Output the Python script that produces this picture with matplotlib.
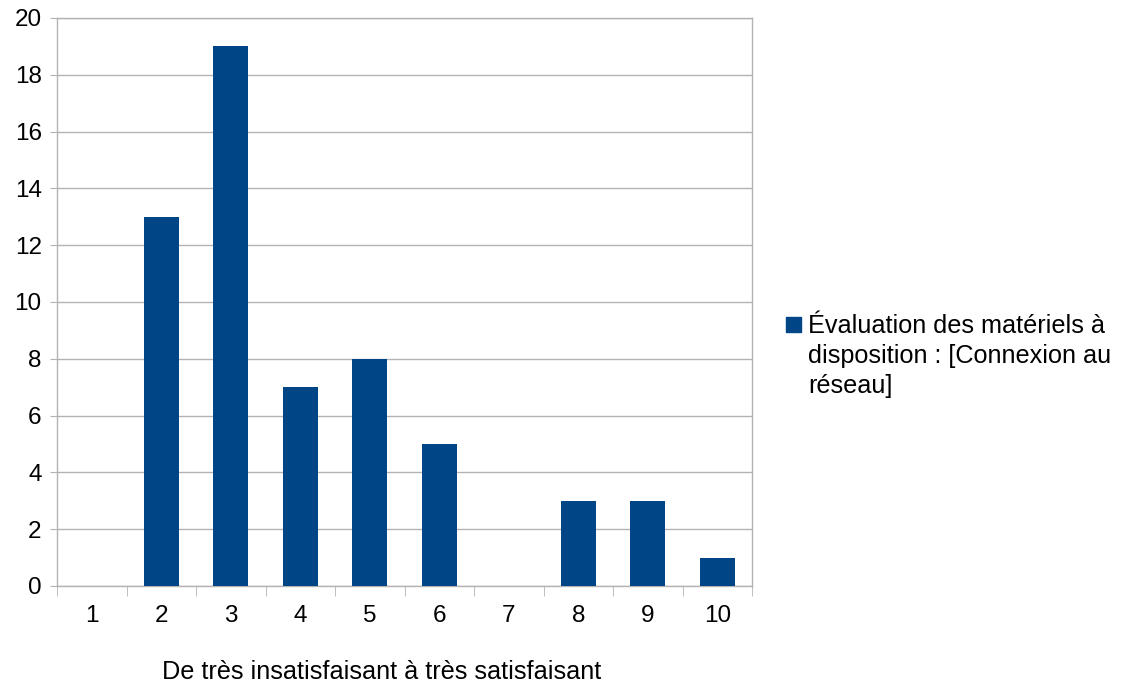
import matplotlib
matplotlib.use("Agg")
import matplotlib.pyplot as plt
from matplotlib.patches import Rectangle

categories = ["1", "2", "3", "4", "5", "6", "7", "8", "9", "10"]
values = [0, 13, 19, 7, 8, 5, 0, 3, 3, 1]
series_name = "Évaluation des matériels à\ndisposition : [Connexion au\nréseau]"
xlabel = "De très insatisfaisant à très satisfaisant"
yticks = [0, 2, 4, 6, 8, 10, 12, 14, 16, 18, 20]

plt.rcParams['font.family'] = ['Liberation Sans', 'DejaVu Sans']
FS = 17.5
FS2 = 18.2

fig = plt.figure(figsize=(11.32, 6.87), dpi=100)
ax = fig.add_axes([57/1132, 1-586/687, (752-57)/1132, (586-18)/687])

color = "#004586"
x = list(range(len(categories)))
ax.bar(x, values, width=0.5, color=color, zorder=3)

ax.set_xlim(-0.5, len(categories)-0.5)
ax.set_ylim(0, 20)
ax.set_yticks(yticks)
ax.set_yticklabels([str(v) for v in yticks], fontsize=FS)
ax.set_xticks(x)
ax.set_xticklabels(categories, fontsize=FS)
ax.set_xticks([i-0.5 for i in range(len(categories)+1)], minor=True)
ax.tick_params(axis='x', which='major', length=0, pad=14)
ax.tick_params(axis='x', which='minor', length=7.5, color="#b3b3b3", direction='out')
ax.tick_params(axis='y', length=5, color="#b3b3b3", direction='out', pad=6)

ax.grid(axis='y', color="#b3b3b3", linewidth=1, zorder=0)
for s in ax.spines.values():
    s.set_color("#b3b3b3")
    s.set_linewidth(1)

fig.text(382/1132, 1-679/687, xlabel, fontsize=FS2, ha='center', va='baseline')

# legend
fig.patches.append(Rectangle((786/1132, 1-332/687), 15/1132, 15/687,
                             transform=fig.transFigure, color=color, figure=fig))
for i, line in enumerate(series_name.split("\n")):
    fig.text(808/1132, 1-(333 + 30*i)/687, line, fontsize=FS2, ha='left',
             va='baseline')

fig.savefig("out.png", dpi=100)
